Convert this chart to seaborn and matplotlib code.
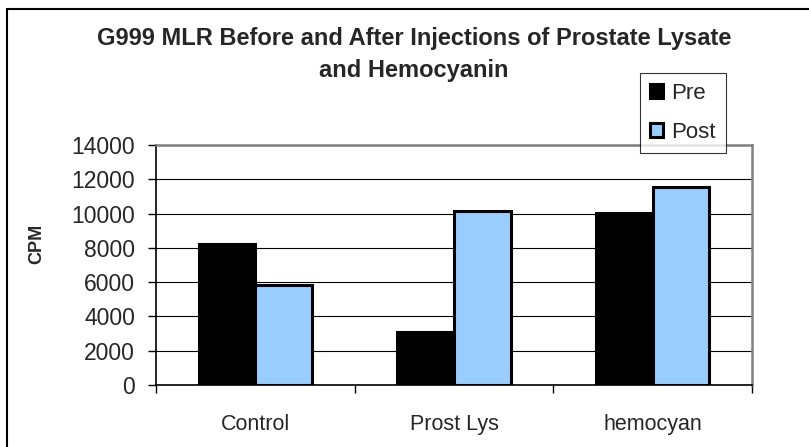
import pandas as pd
import matplotlib.pyplot as plt
import seaborn as sns
from matplotlib.patches import Rectangle

# === Dados ===
categorias = ["Control", "Prost Lys", "hemocyan"]
pre = [8200, 3100, 10050]
post = [5820, 10150, 11550]
series = ["Pre", "Post"]
yticks = [0, 2000, 4000, 6000, 8000, 10000, 12000, 14000]

df = pd.DataFrame({
    "grupo": categorias * 2,
    "serie": ["Pre"] * 3 + ["Post"] * 3,
    "cpm": pre + post,
})

sns.set_theme(style="white")
plt.rcParams["font.family"] = ["Liberation Sans", "DejaVu Sans"]

fig = plt.figure(figsize=(8.09, 4.47), dpi=100)
ax = fig.add_axes([156 / 809, 1 - 385 / 447, 596 / 809, 240 / 447])

sns.barplot(
    data=df, x="grupo", y="cpm", hue="serie", hue_order=series,
    palette={"Pre": "black", "Post": "#99CCFF"},
    width=0.571, gap=0, edgecolor="black", linewidth=2.2,
    saturation=1, errorbar=None, ax=ax,
)

ax.set_xlim(-0.5, 2.5)
ax.set_ylim(0, 14000)
ax.set_yticks(yticks)
ax.set_yticklabels([str(v) for v in yticks], fontsize=16.5)
ax.yaxis.grid(True, color="black", linewidth=0.8)
ax.set_axisbelow(True)

# marcas entre categorias no eixo x
ax.set_xticks([-0.5, 0.5, 1.5, 2.5], minor=True)
ax.tick_params(axis="x", which="minor", length=6, width=1, color="black", direction="out", bottom=True)
ax.tick_params(axis="x", which="major", length=0, pad=21, labelsize=15.5)
ax.tick_params(axis="y", length=6, width=1, color="black", direction="out", left=True, pad=9)

ax.set_xlabel("")
ax.set_ylabel("CPM", fontsize=13, fontweight="bold")
ax.yaxis.set_label_coords(-0.185, 0.5875)

for s in ["left", "bottom"]:
    ax.spines[s].set_color("black")
    ax.spines[s].set_linewidth(1.2)
for s in ["top", "right"]:
    ax.spines[s].set_color("#808080")
    ax.spines[s].set_linewidth(1.8)

# legenda
handles, labels = ax.get_legend_handles_labels()
ax.legend_.remove()
leg = fig.legend(
    handles, labels, loc="upper left",
    bbox_to_anchor=(640 / 809, 1 - 73 / 447), bbox_transform=fig.transFigure,
    fontsize=16, frameon=True, fancybox=False, shadow=False,
    handlelength=0.6, handleheight=0.6, handletextpad=0.35,
    labelspacing=0.8, borderpad=0.45, borderaxespad=0,
)
leg.get_frame().set_edgecolor("black")
leg.get_frame().set_linewidth(0.8)

# titulo (duas linhas)
fig.text(414 / 809, 1 - 38 / 447, "G999 MLR Before and After Injections of Prostate Lysate",
         ha="center", va="center", fontsize=17, fontweight="bold")
fig.text(414 / 809, 1 - 71 / 447, "and Hemocyanin",
         ha="center", va="center", fontsize=17, fontweight="bold")

# moldura externa
fig.patches.append(Rectangle((7 / 809, -0.1), 1.2, 1 - 9 / 447 + 0.1,
                             transform=fig.transFigure, fill=False,
                             edgecolor="black", linewidth=1.5))

fig.savefig("out.png", dpi=100)
